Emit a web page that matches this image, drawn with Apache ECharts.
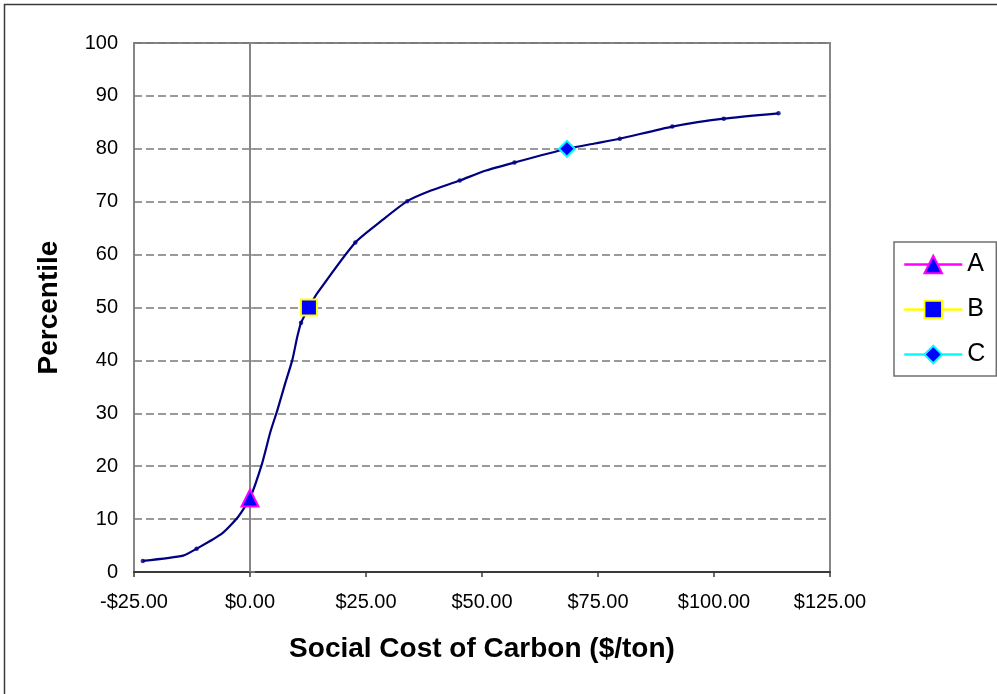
<!DOCTYPE html>
<html>
<head>
<meta charset="utf-8">
<title>Social Cost of Carbon</title>
<script src="https://cdn.jsdelivr.net/npm/echarts@6/dist/echarts.min.js"></script>
<style>
  html, body { margin: 0; padding: 0; background: #fff; }
  #chart { width: 997px; height: 694px; }
</style>
</head>
<body>
<div id="chart"></div>
<script>
// curve (x = $/ton, y = percentile)
var curveX = [-23.1, -14.4, -11.5, -6.0, -2.5, 0, 2.6, 4.4, 5.9, 7.6, 9.1, 10.2, 11.0, 12.7, 14.5, 22.7, 28.5, 33.9, 39.0, 45.2, 50.5, 57.0, 68.3, 74.3, 79.7, 91.0, 102.1, 113.9];
var curveY = [2.1, 3.1, 4.4, 7.3, 10.5, 14.0, 20.5, 26.5, 30.6, 35.7, 40.0, 44.5, 47.1, 50.0, 52.7, 62.3, 66.5, 70.1, 72.1, 74.0, 75.8, 77.4, 80.0, 81.0, 81.9, 84.2, 85.7, 86.7];

// small dots along the curve
var dotX = [-23.1, -11.5, 11.0, 22.7, 33.9, 45.2, 57.0, 79.7, 91.0, 102.1, 113.9];
var dotY = [2.1, 4.4, 47.1, 62.3, 70.1, 74.0, 77.4, 81.9, 84.2, 85.7, 86.7];

// named points
var pointNames = ['A', 'B', 'C'];
var pointX = [0, 12.7, 68.3];
var pointY = [14, 50, 80];

var xTicks = [-25, 0, 25, 50, 75, 100, 125];
var yTicks = [0, 10, 20, 30, 40, 50, 60, 70, 80, 90, 100];

function pairs(xs, ys) {
    var out = [];
    for (var i = 0; i < xs.length; i++) out.push([xs[i], ys[i]]);
    return out;
}

function money(v) {
    var s = '$' + Math.abs(v).toFixed(2);
    return v < 0 ? '-' + s : s;
}

var font = '"Liberation Sans", Arial, sans-serif';
var grey = '#868686';

var symbols = ['triangle', 'rect', 'diamond'];
var sizes = [17, 16, 16];
var borders = ['#ff00ff', '#ffff00', '#00ffff'];

var pointSeries = pointNames.map(function (n, i) {
    return {
        name: n,
        type: 'line',
        symbol: symbols[i],
        symbolSize: sizes[i],
        data: [[pointX[i], pointY[i]]],
        z: 5,
        lineStyle: { color: borders[i], width: 2.5 },
        itemStyle: { color: '#0000ff', borderColor: borders[i], borderWidth: 2 }
    };
});

var chart = echarts.init(document.getElementById('chart'));
chart.setOption({
    animation: false,
    backgroundColor: '#fff',
    textStyle: { fontFamily: font },
    graphic: [{
        type: 'rect',
        shape: { x: 4.5, y: 4.5, width: 1000, height: 700 },
        style: { fill: 'none', stroke: '#3a3a3a', lineWidth: 1.5 },
        silent: true
    }],
    grid: {
        left: 134, right: 167, top: 43, bottom: 122,
        show: true, borderColor: grey, borderWidth: 2, backgroundColor: '#fff'
    },
    legend: {
        orient: 'vertical',
        left: 894, top: 242,
        padding: [10, 11, 9, 9],
        itemWidth: 58, itemHeight: 22, itemGap: 20,
        borderColor: '#707070', borderWidth: 1.5,
        lineStyle: { width: 2.5 },
        textStyle: { fontSize: 25, color: '#000', fontFamily: font },
        data: pointNames
    },
    xAxis: {
        type: 'value',
        min: xTicks[0], max: xTicks[xTicks.length - 1], interval: 25,
        name: 'Social Cost of Carbon ($/ton)',
        nameLocation: 'middle', nameGap: 63,
        nameTextStyle: { fontSize: 28, fontWeight: 'bold', color: '#000', fontFamily: font },
        axisLine: { onZero: false, lineStyle: { color: '#3a3a3a', width: 2 } },
        axisTick: { show: true, length: 5, lineStyle: { color: '#3a3a3a', width: 1.5 } },
        axisLabel: { fontSize: 20, color: '#000', margin: 20, formatter: money },
        splitLine: { show: false }
    },
    yAxis: {
        type: 'value',
        min: yTicks[0], max: yTicks[yTicks.length - 1], interval: 10,
        name: 'Percentile',
        nameLocation: 'middle', nameGap: 71,
        nameTextStyle: { fontSize: 28, fontWeight: 'bold', color: '#000', fontFamily: font },
        axisLine: { show: true, lineStyle: { color: grey, width: 2 } },
        axisTick: { show: true, inside: true, length: 5, lineStyle: { color: grey, width: 1.5 } },
        axisLabel: { fontSize: 20, color: '#000', margin: 16 },
        splitLine: { show: true, lineStyle: { color: '#7a7a7a', width: 1.5, type: [8, 4] } }
    },
    series: [{
        name: 'curve',
        type: 'line',
        data: pairs(curveX, curveY),
        smooth: 0.2,
        showSymbol: false,
        symbol: 'none',
        lineStyle: { color: '#000080', width: 2.2 },
        z: 3,
        markLine: {
            silent: true,
            symbol: 'none',
            label: { show: false },
            lineStyle: { color: grey, width: 1.5, type: 'solid' },
            data: [{ xAxis: 0 }]
        }
    }, {
        name: 'dots',
        type: 'scatter',
        data: pairs(dotX, dotY),
        symbolSize: 4.5,
        itemStyle: { color: '#000080' },
        z: 4
    }].concat(pointSeries)
});
</script>
</body>
</html>
